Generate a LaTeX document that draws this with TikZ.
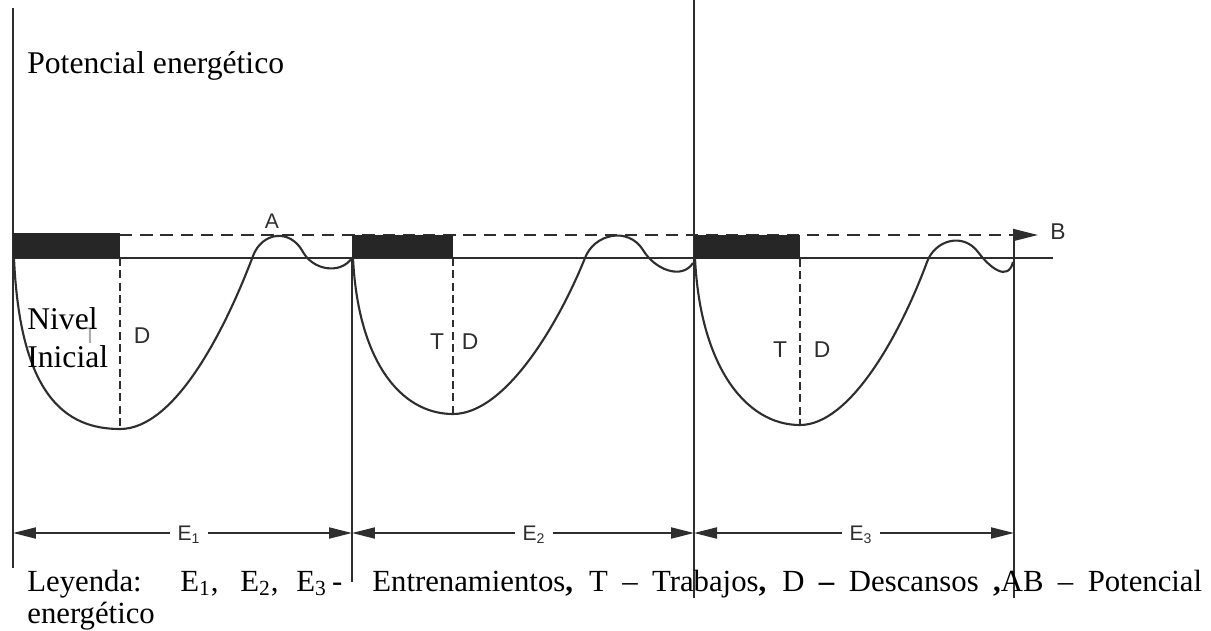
\documentclass[tikz,border=0pt]{standalone}
\usepackage{fontspec}
\setmainfont{Liberation Serif}
\newfontfamily\lblfont{Liberation Sans}
\usetikzlibrary{arrows.meta}
\definecolor{ink}{gray}{0.18}

\begin{document}
\begin{tikzpicture}[
    x=0.02cm, y=-0.02cm,
    axis/.style={ink, line width=1.5pt},
    curve/.style={ink, line width=1.2pt},
    level/.style={ink, line width=1.1pt},
    guide/.style={ink, line width=0.9pt, dash pattern=on 4.5pt off 2.5pt},
    potline/.style={ink, line width=1.1pt, dash pattern=on 7pt off 4.5pt},
    bar/.style={fill=black!85},
    arrow/.style={ink, line width=1.1pt, -{Triangle[length=0.46cm, width=0.22cm]}},
    lbl/.style={font=\lblfont\fontsize{13}{15}\selectfont, text=ink, inner sep=1pt},
    elbl/.style={font=\lblfont\fontsize{12}{14}\selectfont, text=ink, inner sep=4pt},
    txt/.style={font=\fontsize{18}{21}\selectfont, inner sep=0pt, anchor=base west},
    legtxt/.style={font=\fontsize{17.5}{21}\selectfont, inner sep=0pt, anchor=base west},
]
\useasboundingbox (0,0) rectangle (1211,630);

% vertical lines
\coordinate (v1t) at (13,8);     \coordinate (v1b) at (13,568);
\coordinate (v2t) at (352,258);  \coordinate (v2b) at (352,582);
\coordinate (v3t) at (694,0);    \coordinate (v3b) at (694,598);
\coordinate (v4t) at (1014,238); \coordinate (v4b) at (1014,598);
\draw[axis] (v1t) -- (v1b);
\draw[axis] (v2t) -- (v2b);
\draw[axis] (v3t) -- (v3b);
\draw[axis] (v4t) -- (v4b);

% initial level and energy potential
\coordinate (lvl0) at (13,258);
\coordinate (lvl1) at (1053,258);
\draw[level] (lvl0) -- (lvl1);
\coordinate (pA) at (120,235);
\coordinate (pB) at (1038,235);
\draw[potline, -{Triangle[length=0.5cm, width=0.24cm]}] (pA) -- (pB);

% work blocks
\fill[bar] (13,233) rectangle (120,258);
\fill[bar] (352,235) rectangle (453,258);
\fill[bar] (694,235) rectangle (800,259);

% T|D split
\draw[guide] (120,258) -- (120,428);
\draw[guide] (453,258) -- (453,414);
\draw[guide] (800,259) -- (800,425);

% cycles
\draw[curve] (14,258) .. controls (20,395) and (65,429) .. (120,429)
  .. controls (175,429) and (225,330) .. (253,256)
  .. controls (262,232) and (290,228) .. (303,252)
  .. controls (313,270) and (340,275) .. (352,258);
\draw[curve] (353,258) .. controls (358,360) and (400,414) .. (453,414)
  .. controls (505,414) and (558,325) .. (585,258)
  .. controls (594,234) and (628,226) .. (643,250)
  .. controls (655,270) and (682,280) .. (693,263);
\draw[curve] (695,258) .. controls (700,365) and (745,425) .. (800,425)
  .. controls (850,425) and (900,335) .. (927,262)
  .. controls (935,240) and (963,232) .. (978,252)
  .. controls (990,268) and (1008,282) .. (1013,262);

% labels
\node[lbl, font=\lblfont\fontsize{12}{14}\selectfont] (A) at (272,221) {A};
\node[lbl, font=\lblfont\fontsize{13}{15}\selectfont] (B) at (1058,232) {B};
\node[lbl, text=ink!40] (T1) at (90,336) {T};
\node[lbl] (D1) at (142,336) {D};
\node[lbl] (T2) at (437,342) {T};
\node[lbl] (D2) at (470,342) {D};
\node[lbl] (T3) at (780,350) {T};
\node[lbl] (D3) at (822,350) {D};

\node[txt] (pot) at (27,73) {Potencial energético};
\node[txt] (niv) at (27,329) {Nivel};
\node[txt] (ini) at (27,367) {Inicial};

% training spans
\coordinate (s1) at (13,533);
\coordinate (s2) at (352,533);
\coordinate (s3) at (694,533);
\coordinate (s4) at (1014,533);
\node[elbl] (E1) at (189,535) {E\textsubscript{1}};
\node[elbl] (E2) at (534,535) {E\textsubscript{2}};
\node[elbl] (E3) at (861,535) {E\textsubscript{3}};
\draw[arrow] (E1.west |- s1) -- (s1);
\draw[arrow] (E1.east |- s1) -- (s2);
\draw[arrow] (E2.west |- s2) -- (s2);
\draw[arrow] (E2.east |- s2) -- (s3);
\draw[arrow] (E3.west |- s3) -- (s3);
\draw[arrow] (E3.east |- s3) -- (s4);

% legend
\node[legtxt] (leg) at (27,591) {Leyenda:};
\node[legtxt] (legE1) at (180,591) {E\textsubscript{1},};
\node[legtxt] (legE2) at (240,591) {E\textsubscript{2},};
\node[legtxt] (legE3) at (296,591) {E\textsubscript{3}\hspace{3pt}-};
\node[legtxt] (legT) at (372,591) {\makebox[16.6cm][s]{Entrenamientos\textbf{,} T – Trabajos\textbf{,} D \textbf{–} Descansos \textbf{,}AB – Potencial}};
\node[legtxt] (leg2) at (27,623) {energético};
\end{tikzpicture}
\end{document}
